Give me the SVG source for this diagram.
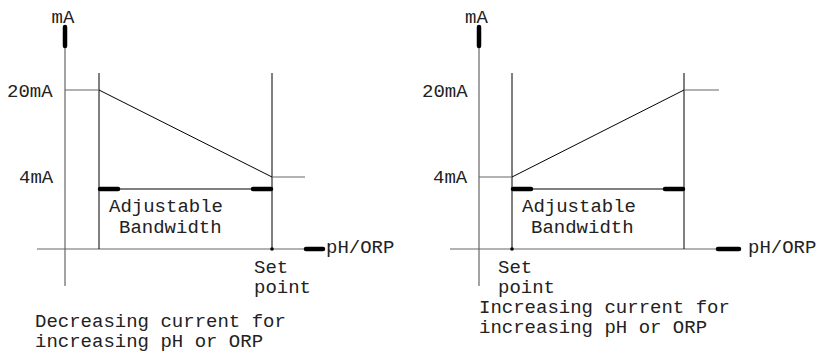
<svg xmlns="http://www.w3.org/2000/svg" width="817" height="352" viewBox="0 0 817 352">
<style>
  text { font-family: "Liberation Mono", "Courier New", monospace; font-size: 19px; fill: #222; }
  .axis { stroke: #666; stroke-width: 1.2; fill: none; }
  .thin { stroke: #000; stroke-width: 1; fill: none; }
  .stub { stroke: #666; stroke-width: 1.2; fill: none; }
  .thick { stroke: #000; stroke-width: 4.5; stroke-linecap: round; fill: none; }
</style>
<rect width="817" height="352" fill="#fff"/>

<g id="left-panel">
  <g id="left-axes">
    <line class="axis" x1="65" y1="25" x2="65" y2="286"/>
    <line class="thick" x1="65" y1="27" x2="65" y2="46"/>
    <line class="axis" x1="37" y1="249" x2="305" y2="249"/>
    <line class="thick" x1="306" y1="249" x2="323" y2="249"/>
    <text x="51.5" y="23">mA</text>
    <text x="326" y="253">pH/ORP</text>
  </g>
  <g id="left-levels">
    <text x="7" y="97">20mA</text>
    <text x="19" y="183">4mA</text>
  </g>
  <g id="left-curve">
    <line class="thin" x1="99" y1="73" x2="99" y2="249"/>
    <line class="thin" x1="272" y1="73" x2="272" y2="249"/>
    <line class="stub" x1="65" y1="90" x2="99" y2="90"/>
    <line class="thin" x1="99" y1="90" x2="272" y2="177"/>
    <line class="stub" x1="272" y1="177" x2="305" y2="177"/>
    <circle cx="272" cy="249" r="1.8" fill="#000"/>
  </g>
  <g id="left-bandwidth">
    <line class="thin" x1="99" y1="189" x2="272" y2="189"/>
    <line class="thick" x1="100" y1="189" x2="118" y2="189"/>
    <line class="thick" x1="253" y1="189" x2="271" y2="189"/>
    <text x="109" y="212">Adjustable</text>
    <text x="119" y="233">Bandwidth</text>
  </g>
  <g id="left-setpoint">
    <text x="254" y="273">Set</text>
    <text x="254" y="293">point</text>
  </g>
  <g id="left-caption">
    <text x="35" y="327">Decreasing current for</text>
    <text x="35" y="347">increasing pH or ORP</text>
  </g>
</g>

<g id="right-panel">
  <g id="right-axes">
    <line class="axis" x1="479" y1="25" x2="479" y2="286"/>
    <line class="thick" x1="479" y1="27" x2="479" y2="46"/>
    <line class="axis" x1="450" y1="249" x2="717" y2="249"/>
    <line class="thick" x1="718" y1="249" x2="739" y2="249"/>
    <text x="465" y="23">mA</text>
    <text x="748" y="253">pH/ORP</text>
  </g>
  <g id="right-levels">
    <text x="422" y="97">20mA</text>
    <text x="433" y="183">4mA</text>
  </g>
  <g id="right-curve">
    <line class="thin" x1="512" y1="73" x2="512" y2="249"/>
    <line class="thin" x1="684" y1="73" x2="684" y2="249"/>
    <line class="stub" x1="479" y1="177" x2="512" y2="177"/>
    <line class="thin" x1="512" y1="177" x2="684" y2="90"/>
    <line class="stub" x1="684" y1="90" x2="719" y2="90"/>
    <circle cx="512" cy="249" r="1.8" fill="#000"/>
  </g>
  <g id="right-bandwidth">
    <line class="thin" x1="512" y1="189" x2="684" y2="189"/>
    <line class="thick" x1="513" y1="189" x2="531" y2="189"/>
    <line class="thick" x1="665" y1="189" x2="683" y2="189"/>
    <text x="522" y="212">Adjustable</text>
    <text x="531" y="233">Bandwidth</text>
  </g>
  <g id="right-setpoint">
    <text x="498" y="273">Set</text>
    <text x="498" y="293">point</text>
  </g>
  <g id="right-caption">
    <text x="479" y="313">Increasing current for</text>
    <text x="479" y="333">increasing pH or ORP</text>
  </g>
</g>
</svg>
